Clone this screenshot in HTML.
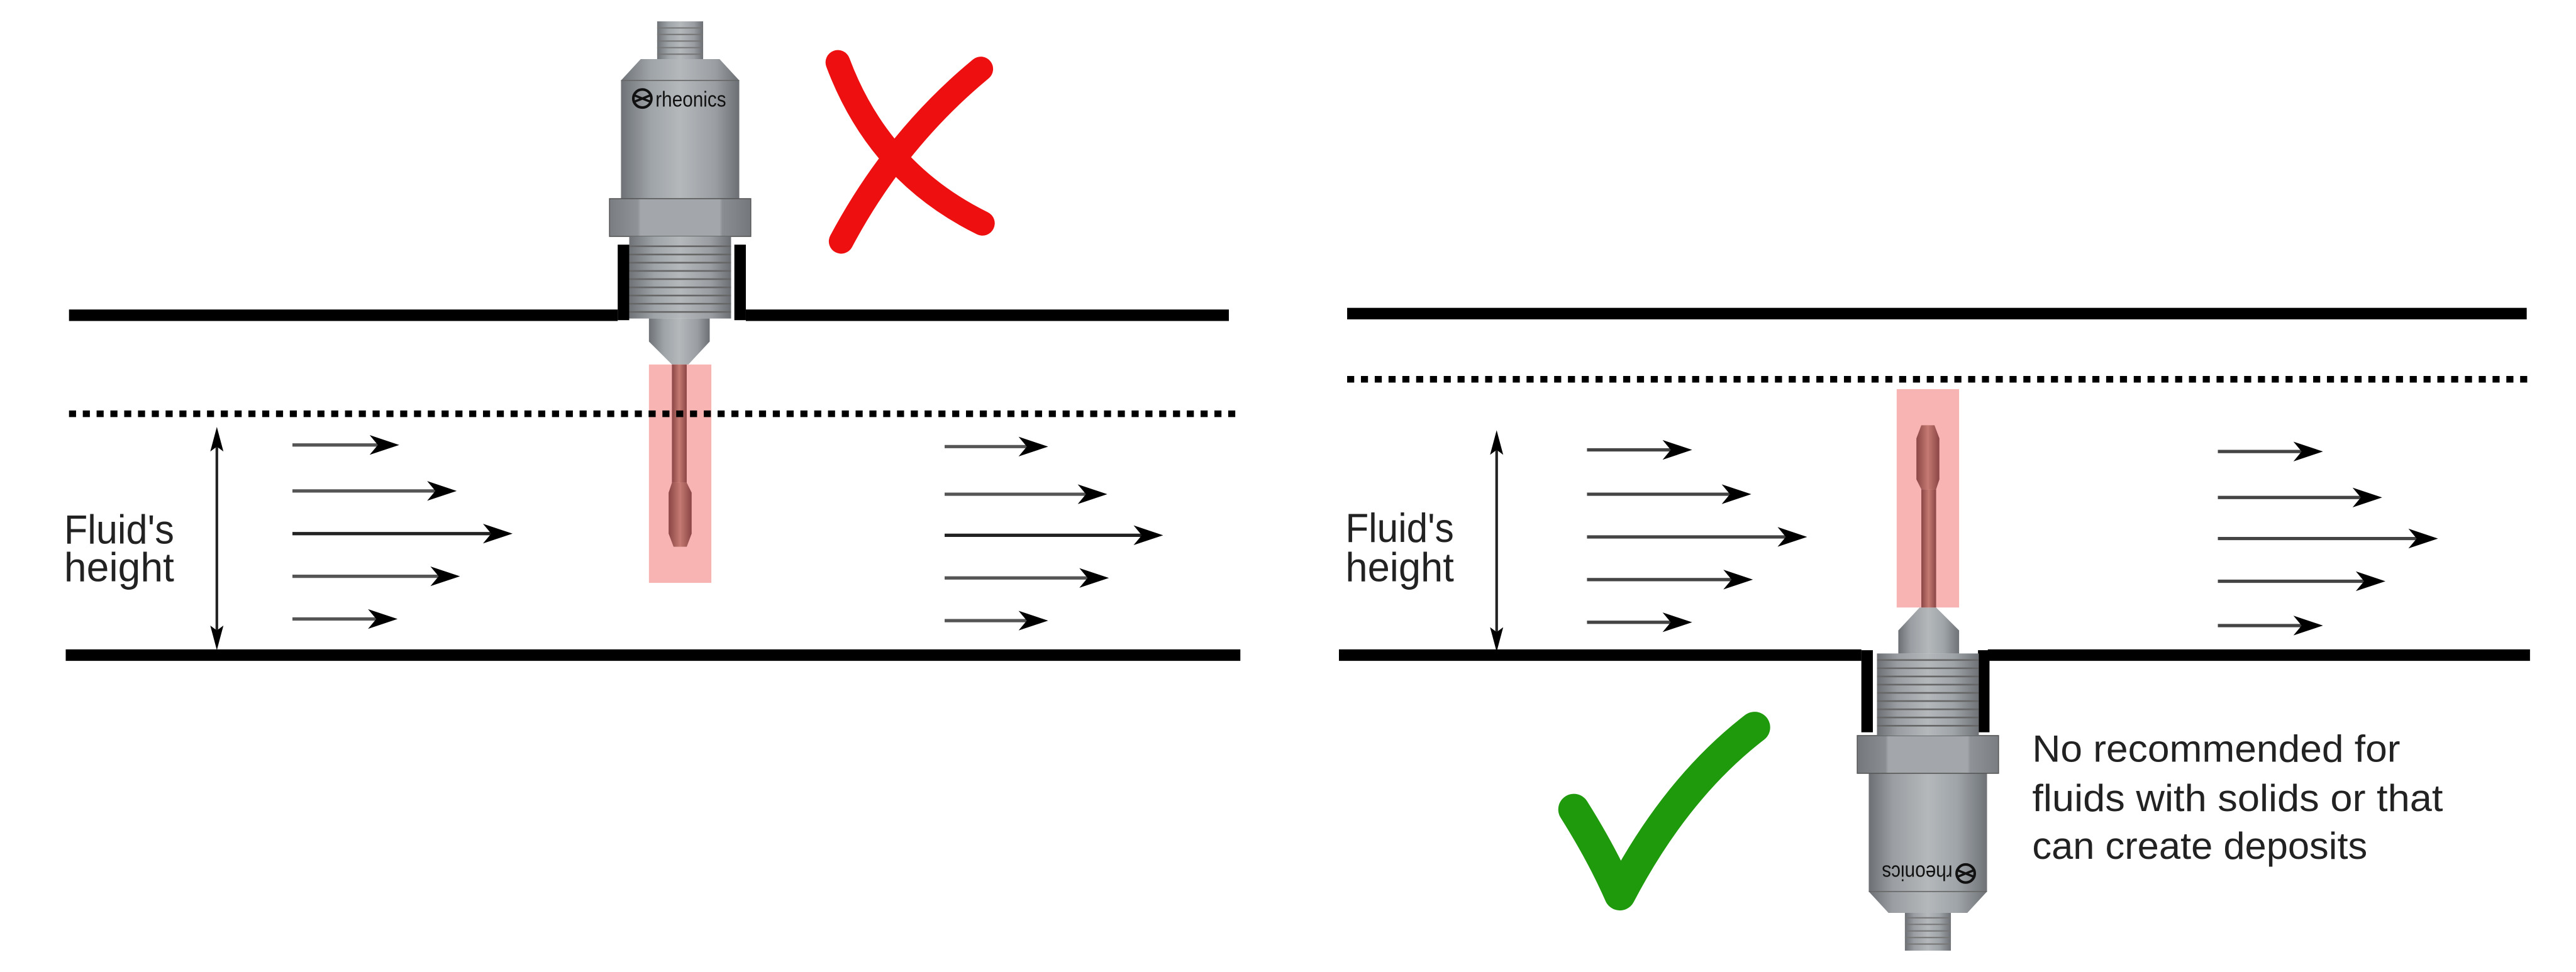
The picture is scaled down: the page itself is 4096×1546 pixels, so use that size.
<!DOCTYPE html>
<html><head><meta charset="utf-8"><style>
html,body{margin:0;padding:0;background:#fff;}
svg{display:block;}
text{font-family:"Liberation Sans",sans-serif;fill:#222;}
</style></head><body>
<svg width="4096" height="1546" viewBox="0 0 1568 592" preserveAspectRatio="none" xmlns="http://www.w3.org/2000/svg">
<defs>
<linearGradient id="metal" x1="0" x2="1" y1="0" y2="0">
<stop offset="0" stop-color="#6f7377"/><stop offset="0.25" stop-color="#9fa4a8"/><stop offset="0.5" stop-color="#b4b8bb"/><stop offset="0.8" stop-color="#9a9ea2"/><stop offset="1" stop-color="#6c7074"/>
</linearGradient>
<linearGradient id="nut" x1="0" x2="1">
<stop offset="0" stop-color="#7a7e82"/><stop offset="0.2" stop-color="#8f9397"/><stop offset="0.22" stop-color="#a3a7ab"/><stop offset="0.78" stop-color="#a3a7ab"/><stop offset="0.8" stop-color="#8a8e92"/><stop offset="1" stop-color="#74787c"/>
</linearGradient>
<linearGradient id="rod" x1="0" x2="1">
<stop offset="0" stop-color="#8a4545"/><stop offset="0.5" stop-color="#c57a72"/><stop offset="1" stop-color="#8a4545"/>
</linearGradient>
<g id="arr">
<path d="M0 0 L-18 -6 L-13 0 L-18 6 Z" fill="#000"/>
</g>
<g id="sensor">
<rect x="400" y="13" width="28" height="24" fill="url(#metal)"/>
<g stroke="#777" stroke-width="0.8">
<line x1="400" y1="17" x2="428" y2="17"/><line x1="400" y1="21" x2="428" y2="21"/><line x1="400" y1="25" x2="428" y2="25"/><line x1="400" y1="29" x2="428" y2="29"/><line x1="400" y1="33" x2="428" y2="33"/>
</g>
<path d="M390 36 L438 36 L450 49 L450 121 L378 121 L378 49 Z" fill="url(#metal)"/>
<line x1="378" y1="49" x2="450" y2="49" stroke="#666" stroke-width="0.6"/>
<circle cx="391" cy="60" r="5.5" fill="none" stroke="#111" stroke-width="1.6"/>
<path d="M386 58 L396 62 M386 62 L396 58" stroke="#111" stroke-width="1.4"/>
<text x="399" y="65" font-size="13" textLength="43" lengthAdjust="spacingAndGlyphs" style="fill:#111">rheonics</text>
<rect x="371" y="121" width="86" height="23" fill="url(#nut)" stroke="#555" stroke-width="0.6"/>
<rect x="383" y="144" width="62" height="50" fill="url(#metal)"/>
<g stroke="#666" stroke-width="1">
<line x1="383" y1="150" x2="445" y2="150"/><line x1="383" y1="155" x2="445" y2="155"/><line x1="383" y1="160" x2="445" y2="160"/><line x1="383" y1="165" x2="445" y2="165"/><line x1="383" y1="170" x2="445" y2="170"/><line x1="383" y1="175" x2="445" y2="175"/><line x1="383" y1="180" x2="445" y2="180"/><line x1="383" y1="185" x2="445" y2="185"/><line x1="383" y1="190" x2="445" y2="190"/>
</g>
<path d="M395 194 L432 194 L432 208 L419 222 L409 222 L395 208 Z" fill="url(#metal)"/>
<rect x="395" y="222" width="38" height="133" fill="#f6a7a5" opacity="0.85"/>
<rect x="409" y="222" width="9" height="72" fill="url(#rod)"/>
<path d="M409 294 L418 294 L421 300 L421 325 L418 333 L410 333 L407 325 L407 300 Z" fill="url(#rod)"/>
</g>
</defs>

<rect x="42" y="188.5" width="334" height="7" fill="#000"/>
<rect x="454" y="188.5" width="294" height="7" fill="#000"/>
<rect x="376" y="149" width="7" height="46" fill="#000"/>
<rect x="447" y="149" width="7" height="46" fill="#000"/>
<use href="#sensor"/>
<line x1="42" y1="252" x2="755" y2="252" stroke="#000" stroke-width="4" stroke-dasharray="4.3 4.1"/>
<rect x="40" y="395.5" width="715" height="7" fill="#000"/>
<line x1="132" y1="268" x2="132" y2="388" stroke="#222" stroke-width="1.6"/>
<path d="M132 260 L128 275 L132 272 L136 275 Z M132 396 L128 381 L132 384 L136 381 Z" fill="#000"/>
<text x="39" y="331" font-size="25" textLength="67" lengthAdjust="spacingAndGlyphs">Fluid's</text>
<text x="39" y="354" font-size="25" textLength="67" lengthAdjust="spacingAndGlyphs">height</text>
<g stroke="#555" stroke-width="2">
<line x1="178" y1="271" x2="232" y2="271"/><line x1="178" y1="299" x2="267" y2="299"/><line x1="178" y1="325" x2="301" y2="325" stroke="#222"/><line x1="178" y1="351" x2="269" y2="351"/><line x1="178" y1="377" x2="231" y2="377"/>
<line x1="575" y1="272" x2="627" y2="272"/><line x1="575" y1="301" x2="663" y2="301"/><line x1="575" y1="326" x2="697" y2="326" stroke="#222"/><line x1="575" y1="352" x2="664" y2="352"/><line x1="575" y1="378" x2="627" y2="378"/>
</g>
<use href="#arr" x="243" y="271"/><use href="#arr" x="278" y="299"/><use href="#arr" x="312" y="325"/><use href="#arr" x="280" y="351"/><use href="#arr" x="242" y="377"/>
<use href="#arr" x="638" y="272"/><use href="#arr" x="674" y="301"/><use href="#arr" x="708" y="326"/><use href="#arr" x="675" y="352"/><use href="#arr" x="638" y="378"/>
<g stroke="#ee1010" stroke-width="15" stroke-linecap="round" fill="none">
<path d="M510 38 Q535 105 598 136"/>
<path d="M597 42 Q545 85 512 147"/>
</g>

<rect x="820" y="187.5" width="718" height="7" fill="#000"/>
<line x1="820" y1="231" x2="1542" y2="231" stroke="#000" stroke-width="4" stroke-dasharray="4.3 4.1"/>
<rect x="815" y="395.5" width="318" height="7" fill="#000"/>
<rect x="1210" y="395.5" width="330" height="7" fill="#000"/>
<rect x="1133" y="396" width="7" height="50" fill="#000"/>
<rect x="1204" y="396" width="7" height="50" fill="#000"/>
<use href="#sensor" transform="rotate(180 793.75 296)"/>
<line x1="911" y1="270" x2="911" y2="389" stroke="#222" stroke-width="1.6"/>
<path d="M911 262 L907 277 L911 274 L915 277 Z M911 397 L907 382 L911 385 L915 382 Z" fill="#000"/>
<text x="819" y="330" font-size="25" textLength="66" lengthAdjust="spacingAndGlyphs">Fluid's</text>
<text x="819" y="354" font-size="25" textLength="66" lengthAdjust="spacingAndGlyphs">height</text>
<g stroke="#444" stroke-width="2">
<line x1="966" y1="274" x2="1019" y2="274"/><line x1="966" y1="301" x2="1055" y2="301"/><line x1="966" y1="327" x2="1089" y2="327"/><line x1="966" y1="353" x2="1056" y2="353"/><line x1="966" y1="379" x2="1019" y2="379"/>
<line x1="1350" y1="275" x2="1403" y2="275"/><line x1="1350" y1="303" x2="1439" y2="303"/><line x1="1350" y1="328" x2="1473" y2="328"/><line x1="1350" y1="354" x2="1441" y2="354"/><line x1="1350" y1="381" x2="1403" y2="381"/>
</g>
<use href="#arr" x="1030" y="274"/><use href="#arr" x="1066" y="301"/><use href="#arr" x="1100" y="327"/><use href="#arr" x="1067" y="353"/><use href="#arr" x="1030" y="379"/>
<use href="#arr" x="1414" y="275"/><use href="#arr" x="1450" y="303"/><use href="#arr" x="1484" y="328"/><use href="#arr" x="1452" y="354"/><use href="#arr" x="1414" y="381"/>
<path d="M958 493 Q975 520 986 545 Q1020 480 1068 443" stroke="#1f9a0c" stroke-width="19" stroke-linecap="round" stroke-linejoin="round" fill="none"/>
<text x="1237" y="464" font-size="23" textLength="224" lengthAdjust="spacingAndGlyphs">No recommended for</text>
<text x="1237" y="494" font-size="23" textLength="250" lengthAdjust="spacingAndGlyphs">fluids with solids or that</text>
<text x="1237" y="523" font-size="23" textLength="204" lengthAdjust="spacingAndGlyphs">can create deposits</text>
</svg>
</body></html>
